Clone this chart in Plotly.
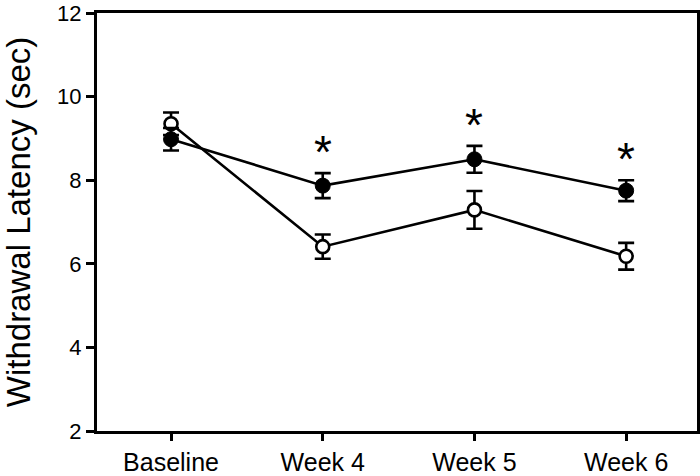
import plotly.graph_objects as go

categories = ["Baseline", "Week 4", "Week 5", "Week 6"]
filled_mean = [8.98, 7.87, 8.50, 7.75]
filled_err = [0.27, 0.30, 0.32, 0.25]
open_mean = [9.35, 6.41, 7.29, 6.18]
open_err = [0.27, 0.29, 0.45, 0.32]
significant = [False, True, True, True]
y_ticks = [2, 4, 6, 8, 10, 12]

xpos = list(range(len(categories)))
FONT = "Liberation Sans, Arial, sans-serif"

fig = go.Figure()
fig.add_trace(go.Scatter(
    x=xpos, y=open_mean, mode="lines+markers",
    line=dict(color="black", width=2.6),
    marker=dict(symbol="circle", size=13, color="white",
                line=dict(color="black", width=2.6)),
    error_y=dict(type="data", array=open_err, color="black", thickness=2.6, width=8),
    showlegend=False, cliponaxis=False,
))
fig.add_trace(go.Scatter(
    x=xpos, y=filled_mean, mode="lines+markers",
    line=dict(color="black", width=2.6),
    marker=dict(symbol="circle", size=15, color="black",
                line=dict(color="black", width=1)),
    error_y=dict(type="data", array=filled_err, color="black", thickness=2.6, width=8),
    showlegend=False, cliponaxis=False,
))

for i, sig in enumerate(significant):
    if sig:
        fig.add_annotation(
            x=xpos[i], y=filled_mean[i] + filled_err[i], text="*",
            showarrow=False, yanchor="bottom", yshift=-7,
            font=dict(family=FONT, size=46, color="black"),
        )

fig.update_layout(
    width=700, height=476,
    margin=dict(l=97, r=3, t=13, b=45, autoexpand=False),
    plot_bgcolor="white", paper_bgcolor="white",
    font=dict(family=FONT, color="black"),
    xaxis=dict(
        range=[-0.488, 3.467], tickvals=xpos, ticktext=categories,
        showline=True, linecolor="black", linewidth=3, mirror=True,
        ticks="outside", ticklen=7, tickwidth=3, tickcolor="black",
        showgrid=False, zeroline=False, automargin=False,
        ticklabeloverflow="allow",
        tickfont=dict(family=FONT, size=25, color="black"),
    ),
    yaxis=dict(
        range=[2, 12], tickvals=y_ticks,
        showline=True, linecolor="black", linewidth=3, mirror=True,
        ticks="outside", ticklen=8, tickwidth=3, tickcolor="black",
        showgrid=False, zeroline=False, automargin=False,
        ticklabeloverflow="allow",
        tickfont=dict(family=FONT, size=22, color="black"),
        title=dict(text="Withdrawal Latency (sec)", standoff=20,
                   font=dict(family=FONT, size=33, color="black")),
    ),
)

fig.write_html(
    "out.html",
    config={"displayModeBar": False},
    post_script="document.body.style.margin='0';document.body.style.overflow='hidden';",
)
